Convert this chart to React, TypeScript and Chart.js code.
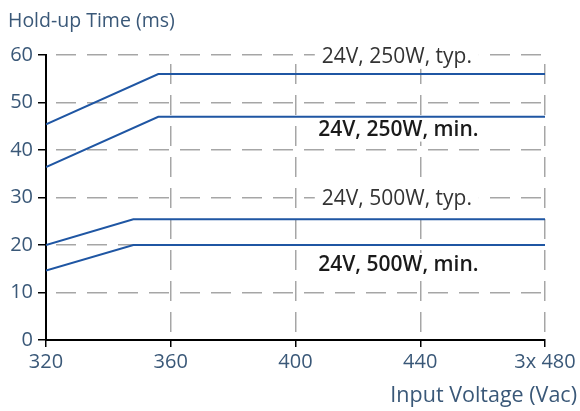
import { useEffect, useRef } from "react";
import { Chart, registerables } from "chart.js";

Chart.register(...registerables);

// ---- data ----
const voltage250 = [320, 356, 480];
const typ250 = [45.4, 56, 56];
const min250 = [36.4, 47, 47];
const voltage500 = [320, 348, 480];
const typ500 = [20, 25.4, 25.4];
const min500 = [14.6, 20, 20];

const xTicks = [320, 360, 400, 440, 480];
const xTickLabels = ["320", "360", "400", "440", "3x 480"];
const yTicks = [0, 10, 20, 30, 40, 50, 60];

const curveLabels = ["24V, 250W, typ.", "24V, 250W, min.", "24V, 500W, typ.", "24V, 500W, min."];
const curveLabelX = [432.5, 433, 432.5, 433];
const curveLabelY = [59.6, 44.3, 29.6, 15.8];
const curveLabelBold = [false, true, false, true];

const yTitle = "Hold-up Time (ms)";
const xTitle = "Input Voltage (Vac)";

const LINE = "#1f56a3";
const AXIS_TEXT = "#3a5878";
const FONT = "'Open Sans', sans-serif";

const pts = (xs: number[], ys: number[]) => xs.map((x, i) => ({ x, y: ys[i] }));

export default function App() {
  const ref = useRef<HTMLCanvasElement | null>(null);

  useEffect(() => {
    document.body.style.margin = "0";
    const canvas = ref.current;
    if (!canvas) return;

    const labelsPlugin = {
      id: "curveLabels",
      beforeDatasetsDraw(chart: any) {
        const ctx = chart.ctx;
        const xs = chart.scales.x;
        const ys = chart.scales.y;
        ctx.save();
        curveLabels.forEach((t, i) => {
          ctx.font = `${curveLabelBold[i] ? 600 : 400} 21px ${FONT}`;
          const w = ctx.measureText(t).width;
          const cx = xs.getPixelForValue(curveLabelX[i]);
          const cy = ys.getPixelForValue(curveLabelY[i]);
          ctx.fillStyle = "#ffffff";
          ctx.fillRect(cx - w / 2 - 7, cy - 12, w + 14, 24);
          ctx.fillStyle = curveLabelBold[i] ? "#1a1a1a" : "#333333";
          ctx.textAlign = "center";
          ctx.textBaseline = "middle";
          ctx.fillText(t, cx, cy);
        });
        ctx.restore();
      },
      afterDraw(chart: any) {
        const ctx = chart.ctx;
        ctx.save();
        ctx.fillStyle = AXIS_TEXT;
        ctx.textBaseline = "middle";
        ctx.textAlign = "left";
        ctx.font = `400 19.5px ${FONT}`;
        ctx.fillText(yTitle, 8, 21);
        ctx.textAlign = "right";
        ctx.font = `400 21.5px ${FONT}`;
        ctx.fillText(xTitle, 577, 396);
        ctx.restore();
      },
    };

    const gridCommon = {
      color: "rgba(0,0,0,0.35)",
      lineWidth: 1.5,
      tickColor: "#000",
      tickWidth: 1.5,
    };

    const chart = new Chart(canvas, {
      type: "line",
      data: {
        datasets: [
          { data: pts(voltage250, typ250) },
          { data: pts(voltage250, min250) },
          { data: pts(voltage500, typ500) },
          { data: pts(voltage500, min500) },
        ].map((d) => ({
          ...d,
          borderColor: LINE,
          borderWidth: 2,
          pointRadius: 0,
          tension: 0,
          fill: false,
        })),
      },
      options: {
        animation: false,
        responsive: false,
        maintainAspectRatio: false,
        layout: { padding: { top: 55, right: 35, left: 0, bottom: 0 } },
        plugins: { legend: { display: false }, tooltip: { enabled: false } },
        scales: {
          x: {
            type: "linear",
            min: 320,
            max: 480,
            afterBuildTicks: (s: any) => {
              s.ticks = xTicks.map((v) => ({ value: v }));
            },
            afterFit: (s: any) => {
              s.height = 71;
            },
            ticks: {
              callback: (v: any) => xTickLabels[xTicks.indexOf(Number(v))] ?? "",
              font: { family: FONT, size: 20 },
              color: AXIS_TEXT,
              padding: 3,
              maxRotation: 0,
              autoSkip: false,
            },
            grid: { ...gridCommon, tickLength: 7 },
            border: { display: true, color: "#000", width: 2, dash: [20, 11], dashOffset: 22 },
          },
          y: {
            min: 0,
            max: 60,
            afterBuildTicks: (s: any) => {
              s.ticks = yTicks.map((v) => ({ value: v }));
            },
            afterFit: (s: any) => {
              s.width = 46;
            },
            ticks: {
              font: { family: FONT, size: 20 },
              color: AXIS_TEXT,
              padding: 5,
            },
            grid: { ...gridCommon, tickLength: 8 },
            border: { display: true, color: "#000", width: 2, dash: [20, 11], dashOffset: 22 },
          },
        },
      },
      plugins: [labelsPlugin],
    } as any);

    return () => chart.destroy();
  }, []);

  return (
    <div style={{ position: "absolute", left: 0, top: 0, width: 580, height: 411 }}>
      <canvas ref={ref} width={580} height={411} style={{ width: 580, height: 411, display: "block" }} />
    </div>
  );
}
